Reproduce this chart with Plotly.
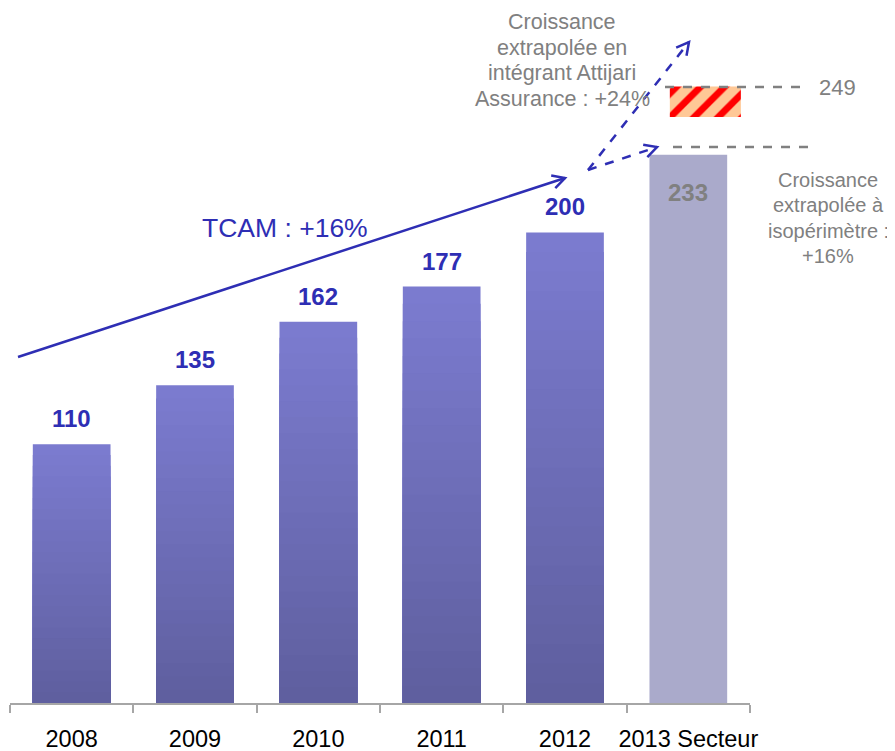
import math
import plotly.graph_objects as go

# données
annees = ['2008', '2009', '2010', '2011', '2012', '2013 Secteur']
valeurs = [110, 135, 162, 177, 200, 233]
hachure_base = 249
hachure_haut = 262

BLEU = '#2e2eb4'
GRIS = '#808080'
HAUT, BAS = (123, 123, 207), (95, 95, 159)   # degrade des barres
SECTEUR = '#aaaacb'
FONT = 'Liberation Sans, Arial'

# la page a une marge de 8px : on travaille en pixels de la capture
OFF = 8
W, H = 895 - OFF, 751 - OFF
L, R, T, B = 2, 145, 0, 48
PW, PH = W - L - R, H - T - B


def P(px, py):
    # pixel de la capture -> coordonnees papier
    return (px - OFF - L) / PW, (H - B - (py - OFF)) / PH


def ligne(p1, p2, dash='solid', couleur=BLEU, largeur=2.5):
    (x0, y0), (x1, y1) = P(*p1), P(*p2)
    return dict(type='line', xref='paper', yref='paper', x0=x0, y0=y0, x1=x1, y1=y1,
                line=dict(color=couleur, width=largeur, dash=dash))


def fleche(p1, p2, dash='solid', long=14, ang=28):
    a = math.atan2(p2[1] - p1[1], p2[0] - p1[0])
    pts = []
    for s in (1, -1):
        t = a + math.pi + s * math.radians(ang)
        pts.append((p2[0] + long * math.cos(t), p2[1] + long * math.sin(t)))
    pa, pt, pb = P(*pts[0]), P(*p2), P(*pts[1])
    tete = dict(type='path', xref='paper', yref='paper',
                path=f'M {pa[0]},{pa[1]} L {pt[0]},{pt[1]} L {pb[0]},{pb[1]}',
                line=dict(color=BLEU, width=2.5))
    return [ligne(p1, p2, dash), tete]


fig = go.Figure()
# barres en degrade : couches superposees de plus en plus courtes et foncees
N = 24
for k in range(N):
    f = k / (N - 1)
    c = 'rgb(%d,%d,%d)' % tuple(round(h + (b - h) * f) for h, b in zip(HAUT, BAS))
    fig.add_trace(go.Bar(x=annees[:-1], y=[v * (1 - k / N) for v in valeurs[:-1]],
                         marker_color=c, width=0.63, marker_line_width=0, hoverinfo='skip'))
fig.add_trace(go.Bar(x=annees[-1:], y=valeurs[-1:], marker_color=SECTEUR, width=0.63,
                     marker_line_width=0))
fig.add_trace(go.Bar(x=[annees[-1]], y=[hachure_haut - hachure_base], base=[hachure_base],
                     width=0.576, offset=-0.15, marker_line_width=0,
                     marker=dict(pattern=dict(shape='/', fgcolor='#ff0000', bgcolor='#ffc896',
                                              size=17, solidity=0.4, fillmode='replace'))))

shapes = []
shapes += fleche((18, 357), (565, 178))
shapes += fleche((588, 170), (689, 42), dash='dash')
shapes += fleche((588, 170), (657, 147), dash='dash')
shapes.append(ligne((665, 87), (808, 87), dash='dash', couleur=GRIS))
shapes.append(ligne((673, 147), (810, 147), dash='dash', couleur=GRIS))

annots = []
for i, v in enumerate(valeurs[:-1]):
    annots.append(dict(x=i, y=v, text=f'<b>{v}</b>', showarrow=False, yanchor='bottom',
                       yshift=10, font=dict(size=24, color=BLEU, family=FONT)))
annots.append(dict(x=len(valeurs) - 1, y=valeurs[-1], text=f'<b>{valeurs[-1]}</b>',
                   showarrow=False, yanchor='top', yshift=-22,
                   font=dict(size=24, color=GRIS, family=FONT)))


def texte(px, py, t, taille, couleur):
    x, y = P(px, py)
    return dict(xref='paper', yref='paper', x=x, y=y, text=t, showarrow=False,
                xanchor='center', yanchor='middle', align='center',
                font=dict(size=taille, color=couleur, family=FONT))


annots.append(texte(285, 228, 'TCAM : +16%', 26.5, BLEU))
haut_txt = ['Croissance', 'extrapolée en', 'intégrant Attijari', 'Assurance : +24%']
for j, t in enumerate(haut_txt):
    annots.append(texte(562, 22 + 25.5 * j, t, 21.5, GRIS))
bas_txt = ['Croissance', 'extrapolée à', 'isopérimètre :', '+16%']
for j, t in enumerate(bas_txt):
    annots.append(texte(828, 180 + 25.3 * j, t, 20, GRIS))
annots.append(texte(838, 87, '249', 22, GRIS))

fig.update_layout(
    width=W, height=H, margin=dict(l=L, r=R, t=T, b=B),
    plot_bgcolor='white', paper_bgcolor='white', showlegend=False,
    barmode='overlay', shapes=shapes, annotations=annots,
    font=dict(family=FONT),
)
fig.update_xaxes(type='category', range=[-0.5, len(annees) - 0.5], automargin=False,
                 tickangle=0, showline=True, linecolor='#a6a6a6', linewidth=1.5,
                 ticks='outside', tickson='boundaries', ticklen=8, tickcolor='#a6a6a6',
                 tickwidth=1.5, tickfont=dict(size=23.5, color='black', family=FONT),
                 ticklabelstandoff=14, showgrid=False)
fig.update_yaxes(range=[0, (H - B) / 2.353], visible=False, automargin=False)

fig.write_html('out.html')
